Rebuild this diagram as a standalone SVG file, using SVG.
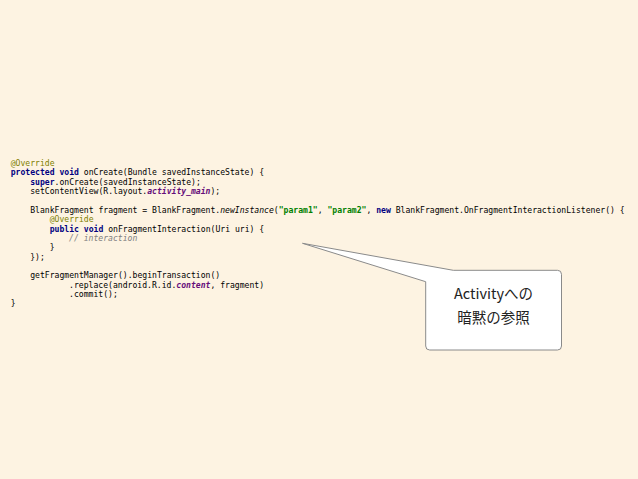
<svg xmlns="http://www.w3.org/2000/svg" width="638" height="479" viewBox="0 0 638 479">
<style>
.code{font-family:"DejaVu Sans Mono","Liberation Mono",monospace;font-size:8.1px;fill:#000}
.kw{fill:#000080;font-weight:bold}
.an{fill:#808000}
.st{fill:#008000;font-weight:bold}
.fd{fill:#660e7a;font-weight:bold;font-style:italic}
.it{font-style:italic}
.cm{fill:#808080;font-style:italic}
.callout{fill:#fff;stroke:#8a8a8a;stroke-width:1}
.note{font-family:"Noto Sans CJK JP","Noto Sans",sans-serif;font-size:14.5px;fill:#222;text-anchor:middle}
</style>
<rect width="638" height="479" fill="#fdf3e2"/>
<g id="code" class="code">
<text x="10.7" y="166"><tspan class="an">@Override</tspan></text>
<text x="10.7" y="175.4"><tspan class="kw">protected</tspan> <tspan class="kw">void</tspan> onCreate(Bundle savedInstanceState) {</text>
<text x="30.2" y="184.7"><tspan class="kw">super</tspan>.onCreate(savedInstanceState);</text>
<text x="30.2" y="194.1">setContentView(R.layout.<tspan class="fd">activity_main</tspan>);</text>
<text x="30.2" y="212.8">BlankFragment fragment = BlankFragment.<tspan class="it">newInstance</tspan>(<tspan class="st">"param1"</tspan>, <tspan class="st">"param2"</tspan>, <tspan class="kw">new</tspan> BlankFragment.OnFragmentInteractionListener() {</text>
<text x="49.7" y="222.1"><tspan class="an">@Override</tspan></text>
<text x="49.7" y="231.5"><tspan class="kw">public</tspan> <tspan class="kw">void</tspan> onFragmentInteraction(Uri uri) {</text>
<text x="69.1" y="240.8"><tspan class="cm">// interaction</tspan></text>
<text x="49.7" y="250.2">}</text>
<text x="30.2" y="259.5">});</text>
<text x="30.2" y="278.2">getFragmentManager().beginTransaction()</text>
<text x="69.1" y="287.6">.replace(android.R.id.<tspan class="fd">content</tspan>, fragment)</text>
<text x="69.1" y="296.9">.commit();</text>
<text x="10.7" y="306.3">}</text>
</g>
<g id="callout">
<path class="callout" d="M302.5,243.3 L453.3,270.3 L557.5,270.3 Q561.5,270.3 561.5,274.3 L561.5,346 Q561.5,350 557.5,350 L429.7,350 Q425.7,350 425.7,346 L425.7,281.7 Z"/>
<text class="note" x="493.5" y="299.3">Activityへの</text>
<text class="note" x="493.5" y="322.5">暗黙の参照</text>
</g>
</svg>
